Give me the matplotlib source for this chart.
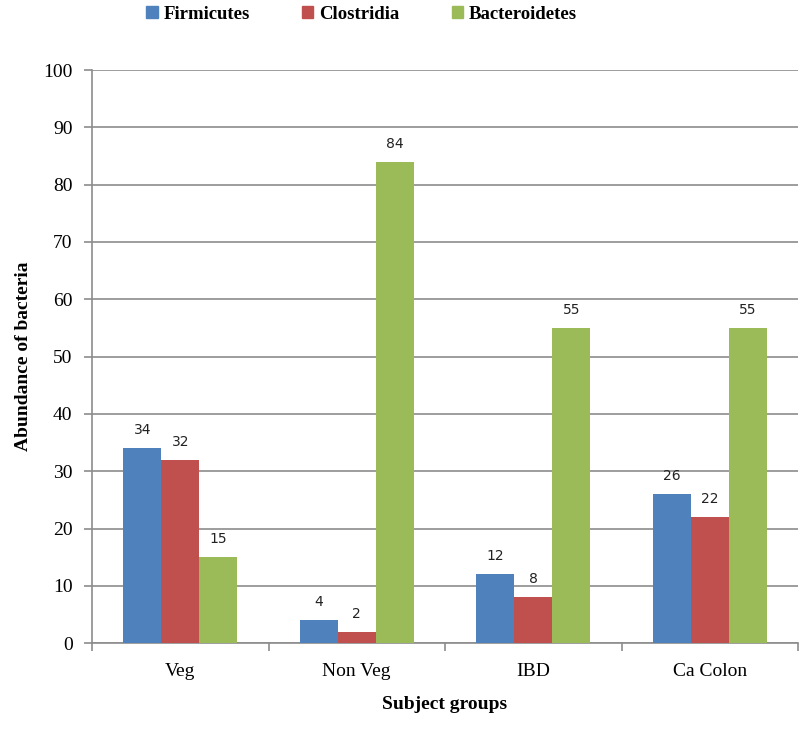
import numpy as np
import matplotlib.pyplot as plt
from matplotlib.patches import Patch

groups = ['Veg', 'Non Veg', 'IBD', 'Ca Colon']
series = ['Firmicutes', 'Clostridia', 'Bacteroidetes']
firmicutes = [34, 4, 12, 26]
clostridia = [32, 2, 8, 22]
bacteroidetes = [15, 84, 55, 55]
colors = ['#4F81BD', '#C0504D', '#9BBB59']

serif = 'Liberation Serif'
sans = 'DejaVu Sans'

fig = plt.figure(figsize=(8, 7.3), dpi=100)
ax = fig.add_axes([0.115, 0.119, 0.8825, 0.785])

x = np.arange(len(groups))
w = 0.215
for i, (vals, c) in enumerate(zip([firmicutes, clostridia, bacteroidetes], colors)):
    pos = x + (i - 1) * w
    ax.bar(pos, vals, width=w, color=c, zorder=3)
    for p, v in zip(pos, vals):
        ax.annotate(str(v), (p, v), xytext=(0, 8), textcoords='offset points',
                    ha='center', va='bottom', fontsize=10, family=sans, color='#222222')

ax.set_xlim(-0.5, len(groups) - 0.5)
ax.set_ylim(0, 100)
ax.set_yticks(range(0, 101, 10))
ax.yaxis.grid(True, color='#8c8c8c', linewidth=1.2, zorder=0)
ax.set_axisbelow(True)

# category boundary ticks on x axis
ax.set_xticks(np.arange(-0.5, len(groups)), minor=False)
ax.set_xticklabels([])
ax.set_xticks(x, minor=True)
ax.set_xticklabels(groups, minor=True, family=serif, fontsize=14)
ax.tick_params(axis='x', which='minor', length=0, pad=14)
ax.tick_params(axis='x', which='major', length=6, color='#8c8c8c', width=1.2)
ax.tick_params(axis='y', length=6, color='#8c8c8c', width=1.2, labelsize=14, pad=8)
for t in ax.get_yticklabels():
    t.set_family(serif)

for s in ['top', 'right']:
    ax.spines[s].set_visible(False)
for s in ['left', 'bottom']:
    ax.spines[s].set_color('#8c8c8c')
    ax.spines[s].set_linewidth(1.2)

ax.set_ylabel('Abundance of bacteria', family=serif, fontweight='bold', fontsize=14, labelpad=8)
ax.set_xlabel('Subject groups', family=serif, fontweight='bold', fontsize=14, labelpad=12)

handles = [Patch(color=c, label=s) for c, s in zip(colors, series)]
fig.legend(handles=handles, loc='upper center', bbox_to_anchor=(0.452, 1.015), ncol=3,
           frameon=False, prop={'family': serif, 'weight': 'bold', 'size': 13.5},
           handlelength=0.6, handleheight=0.6, handletextpad=0.3, columnspacing=2.8)

fig.savefig('out.png', dpi=100)
